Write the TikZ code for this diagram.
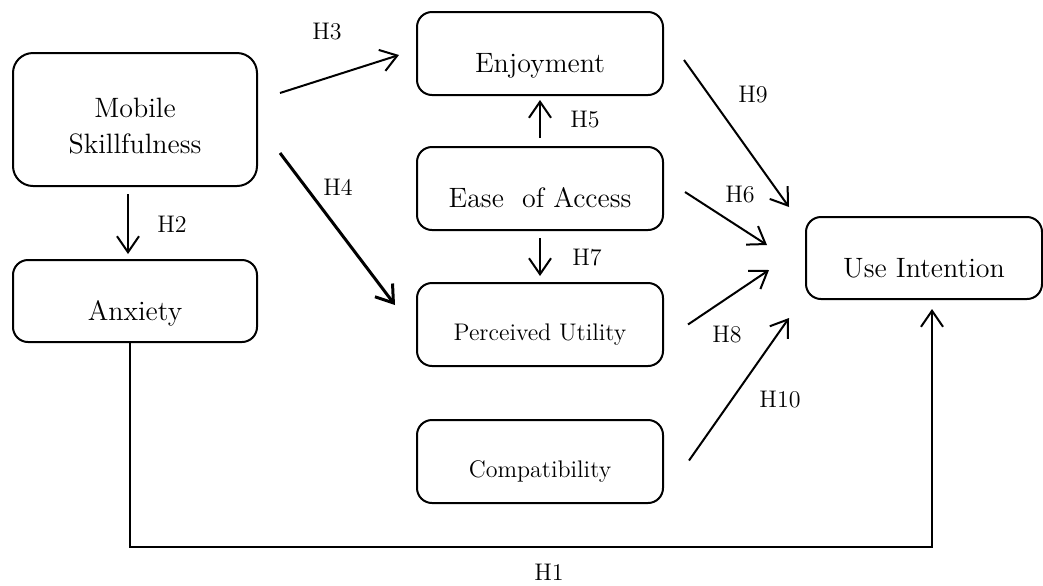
\documentclass[tikz,border=0pt]{standalone}
\usepackage{tikz}
\usetikzlibrary{arrows.meta, positioning}

\begin{document}
\begin{tikzpicture}[
  x=0.5pt, y=-0.5pt,
  node distance=25pt and 10mm,
  construct/.style={
    draw,
    line width=1pt,
    rounded corners=7.5pt,
    minimum width=123pt,
    minimum height=41.5pt,
    align=center,
    inner sep=2pt,
    text height=21.5pt,
    text depth=2.5pt,
    font=\fontsize{14}{18}\selectfont
  },
  small/.style={font=\fontsize{12}{14}\selectfont, text height=18pt},
  hyp/.style={font=\fontsize{12}{14}\selectfont, inner sep=0pt},
  arrow/.style={-{Straight Barb[length=8pt,width=11pt]}, line width=1pt}
]
\useasboundingbox (0,0) rectangle (1043,585);

\node[construct, minimum width=122pt, minimum height=66.5pt, rounded corners=10pt,
      text height=33.5pt, text depth=0pt] (ms) at (135,119.5) {Mobile\\Skillfulness};
\node[construct, minimum width=122pt, minimum height=41pt, below=36pt of ms] (anx) {Anxiety};

\node[construct] (enj) at (540,53.5) {Enjoyment};
\node[construct, below=of enj] (eoa) {Ease\ \ of Access};
\node[construct, small, below=25.5pt of eoa] (pu) {Perceived Utility};
\node[construct, small, below=26pt of pu] (cmp) {Compatibility};

\node[construct, minimum width=118pt, minimum height=41pt] (ui) at (924,258) {Use Intention};

\draw[arrow] ([xshift=11pt,yshift=13.25pt]ms.east) -- ([xshift=-8.5pt,yshift=-0.75pt]enj.west);
\draw[arrow, line width=1.5pt] ([xshift=11pt,yshift=-16.75pt]ms.east) -- ([xshift=-10.5pt,yshift=9.75pt]pu.west);
\draw[arrow] ([xshift=-3.5pt,yshift=-3.5pt]ms.south) -- ([xshift=-3.5pt,yshift=2.5pt]anx.north);
\draw[arrow] ([yshift=4pt]eoa.north) -- ([yshift=-2pt]enj.south);
\draw[arrow] ([yshift=-3.5pt]eoa.south) -- ([yshift=3pt]pu.north);
\draw[arrow] ([xshift=10pt,yshift=-3.25pt]enj.east) -- ([xshift=-8pt,yshift=25.5pt]ui.west);
\draw[arrow] ([xshift=10.5pt,yshift=-1.75pt]eoa.east) -- ([xshift=-19pt,yshift=6.5pt]ui.west);
\draw[arrow] ([xshift=12pt]pu.east) -- ([xshift=-18pt,yshift=-6pt]ui.west);
\draw[arrow] ([xshift=12.5pt,yshift=0.5pt]cmp.east) -- ([xshift=-8pt,yshift=-30pt]ui.west);

\coordinate (h1turn) at (130,547);
\draw[arrow] ([xshift=-2.5pt]anx.south) -- (h1turn) -| ([xshift=4pt,yshift=-4.5pt]ui.south);

\node[hyp] (h1) at (549,572) {H1};
\node[hyp] (h2) at (172,224) {H2};
\node[hyp] (h3) at (327,32) {H3};
\node[hyp] (h4) at (338,187) {H4};
\node[hyp] (h5) at (585,120) {H5};
\node[hyp] (h6) at (740,195) {H6};
\node[hyp] (h7) at (587,258) {H7};
\node[hyp] (h8) at (727,335) {H8};
\node[hyp] (h9) at (753,95) {H9};
\node[hyp] (h10) at (780,400) {H10};
\end{tikzpicture}
\end{document}
